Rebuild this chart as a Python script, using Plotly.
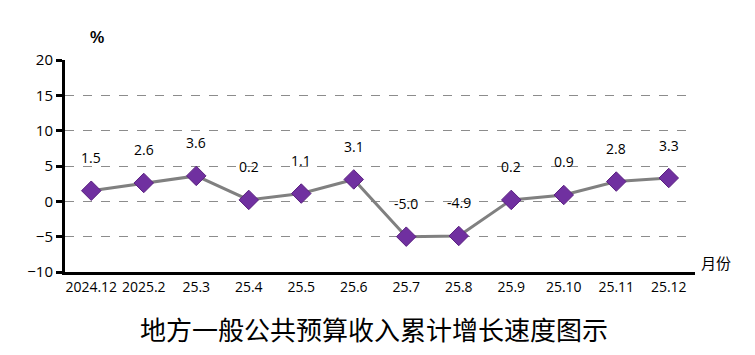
import plotly.graph_objects as go

categories = ["2024.12", "2025.2", "25.3", "25.4", "25.5", "25.6", "25.7", "25.8", "25.9", "25.10", "25.11", "25.12"]
values = [1.5, 2.6, 3.6, 0.2, 1.1, 3.1, -5.0, -4.9, 0.2, 0.9, 2.8, 3.3]
labels = ["1.5", "2.6", "3.6", "0.2", "1.1", "3.1", "-5.0", "-4.9", "0.2", "0.9", "2.8", "3.3"]
y_ticks = [-10, -5, 0, 5, 10, 15, 20]

fig = go.Figure()
fig.add_trace(go.Scatter(
    x=categories, y=values, mode="lines+markers",
    line=dict(color="#808080", width=3),
    marker=dict(symbol="diamond", size=15, color="#7030A0", line=dict(color="#5a2080", width=1)),
    hoverinfo="skip", showlegend=False,
))

for i, (v, t) in enumerate(zip(values, labels)):
    fig.add_annotation(x=i, y=v, text=t, showarrow=False, yshift=33,
                       xanchor="center", yanchor="middle",
                       font=dict(family="Open Sans, Liberation Sans", size=14, color="#000"))

fig.add_annotation(xref="paper", yref="paper", x=0.0, y=1.0, yshift=23, xshift=32,
                   xanchor="center", yanchor="middle",
                   text="<b>%</b>", showarrow=False,
                   font=dict(family="Liberation Sans", size=16, color="#000"))
fig.add_annotation(xref="paper", yref="paper", x=1.0, y=0.0, xanchor="left", yanchor="middle",
                   xshift=4, yshift=10,
                   text="月份", showarrow=False,
                   font=dict(family="Noto Sans CJK SC", size=15, color="#000"))
fig.add_annotation(xref="paper", yref="paper", x=0.5, y=0.0, yshift=-56, xanchor="center",
                   yanchor="middle", xshift=-6,
                   text="地方一般公共预算收入累计增长速度图示", showarrow=False,
                   font=dict(family="Noto Sans CJK SC", size=26, color="#000"))

fig.update_layout(
    width=755, height=355,
    margin=dict(l=65, r=60, t=60, b=83),
    paper_bgcolor="white", plot_bgcolor="white",
    xaxis=dict(type="category", range=[-0.5, 11.5], showgrid=False, showline=True,
               linecolor="black", linewidth=3, ticks="", zeroline=False,
               tickfont=dict(family="Open Sans, Liberation Sans", size=14, color="#000")),
    yaxis=dict(range=[-10, 20], tickvals=y_ticks, showgrid=True, gridcolor="#8c8c8c",
               griddash="dash", gridwidth=1, showline=True, linecolor="black", linewidth=3,
               ticks="outside", ticklen=6, tickwidth=3, tickcolor="black", zeroline=False,
               tickfont=dict(family="Open Sans, Liberation Sans", size=15, color="#000")),
)

fig.write_html("out.html")
